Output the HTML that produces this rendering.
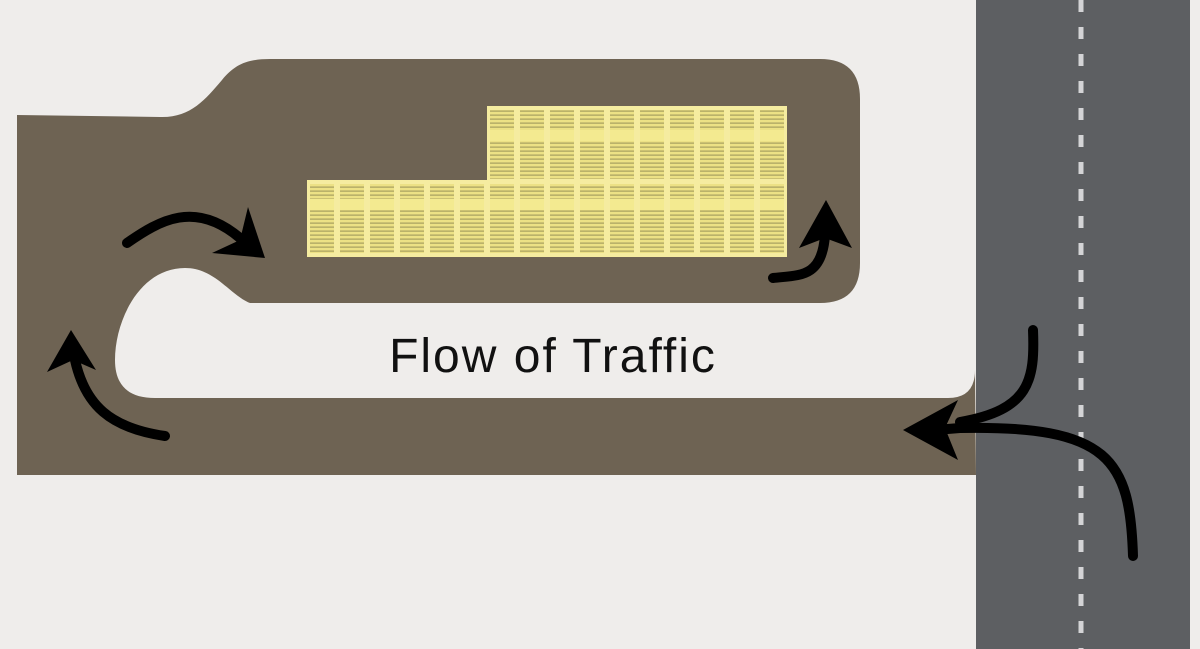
<!DOCTYPE html>
<html><head><style>
html,body{margin:0;padding:0;background:#efedeb;}
svg{display:block}
</style></head><body>
<svg width="1200" height="649" viewBox="0 0 1200 649" xmlns="http://www.w3.org/2000/svg">
<defs>
<pattern id="st" width="30" height="4" patternUnits="userSpaceOnUse">
<rect width="30" height="4" fill="#ece185"/>
<rect y="2.6" width="30" height="1" fill="#9a9258"/>
</pattern>
</defs>
<rect width="1200" height="649" fill="#efedeb"/>
<rect x="976" y="0" width="214" height="649" fill="#5d5f62"/>
<line x1="1081" y1="0" x2="1081" y2="649" stroke="#d4d4d6" stroke-width="5" stroke-dasharray="12 15"/>
<path d="M17,115 L160,117 C190,118 205,100 222,80 C235,64 248,59 270,59 L820,59 Q860,59 860,99 L860,263 Q860,303 820,303 L250,303 C230,295 215,268 185,268 C140,268 115,320 115,360 C115,385 128,398 155,398 L948,398 Q975,398 975,370 L976,475 L17,475 Z" fill="#6e6353"/>
<rect x="487" y="106" width="300" height="76" fill="#f5eca0"/>
<rect x="307" y="180" width="480" height="77" fill="#f5eca0"/>
<g fill="url(#st)">
<rect x="490" y="110" width="24" height="69"/><rect x="520" y="110" width="24" height="69"/><rect x="550" y="110" width="24" height="69"/><rect x="580" y="110" width="24" height="69"/><rect x="610" y="110" width="24" height="69"/><rect x="640" y="110" width="24" height="69"/><rect x="670" y="110" width="24" height="69"/><rect x="700" y="110" width="24" height="69"/><rect x="730" y="110" width="24" height="69"/><rect x="760" y="110" width="24" height="69"/>
<rect x="310" y="184" width="24" height="69"/><rect x="340" y="184" width="24" height="69"/><rect x="370" y="184" width="24" height="69"/><rect x="400" y="184" width="24" height="69"/><rect x="430" y="184" width="24" height="69"/><rect x="460" y="184" width="24" height="69"/><rect x="490" y="184" width="24" height="69"/><rect x="520" y="184" width="24" height="69"/><rect x="550" y="184" width="24" height="69"/><rect x="580" y="184" width="24" height="69"/><rect x="610" y="184" width="24" height="69"/><rect x="640" y="184" width="24" height="69"/><rect x="670" y="184" width="24" height="69"/><rect x="700" y="184" width="24" height="69"/><rect x="730" y="184" width="24" height="69"/><rect x="760" y="184" width="24" height="69"/>
</g>
<g fill="#f3ea90">
<rect x="490" y="130" width="24" height="11"/><rect x="520" y="130" width="24" height="11"/><rect x="550" y="130" width="24" height="11"/><rect x="580" y="130" width="24" height="11"/><rect x="610" y="130" width="24" height="11"/><rect x="640" y="130" width="24" height="11"/><rect x="670" y="130" width="24" height="11"/><rect x="700" y="130" width="24" height="11"/><rect x="730" y="130" width="24" height="11"/><rect x="760" y="130" width="24" height="11"/>
<rect x="310" y="199" width="24" height="11"/><rect x="340" y="199" width="24" height="11"/><rect x="370" y="199" width="24" height="11"/><rect x="400" y="199" width="24" height="11"/><rect x="430" y="199" width="24" height="11"/><rect x="460" y="199" width="24" height="11"/><rect x="490" y="199" width="24" height="11"/><rect x="520" y="199" width="24" height="11"/><rect x="550" y="199" width="24" height="11"/><rect x="580" y="199" width="24" height="11"/><rect x="610" y="199" width="24" height="11"/><rect x="640" y="199" width="24" height="11"/><rect x="670" y="199" width="24" height="11"/><rect x="700" y="199" width="24" height="11"/><rect x="730" y="199" width="24" height="11"/><rect x="760" y="199" width="24" height="11"/>
</g>
<g fill="none" stroke="#000" stroke-width="10" stroke-linecap="round">
<path d="M127,243 C160,220 195,200 240,238"/>
<path d="M773,278 C800,275 822,278 825,235"/>
<path d="M165,436 C110,428 85,405 75,360"/>
<path d="M1033,330 C1035,380 1030,410 960,422"/>
<path d="M1133,556 C1130,460 1110,425 960,428 L935,430"/>
</g>
<g fill="#000">
<polygon points="265,258 248,207 240,240 212,253"/>
<polygon points="826,200 799,248 825,238 852,248"/>
<polygon points="71,330 47,372 73,360 96,370"/>
<polygon points="903,430 958,400 945,428 958,460"/>
</g>
<text x="553" y="372" text-anchor="middle" font-family="Liberation Sans, sans-serif" font-size="48" letter-spacing="2" fill="#111">Flow of Traffic</text>
</svg>
</body></html>
